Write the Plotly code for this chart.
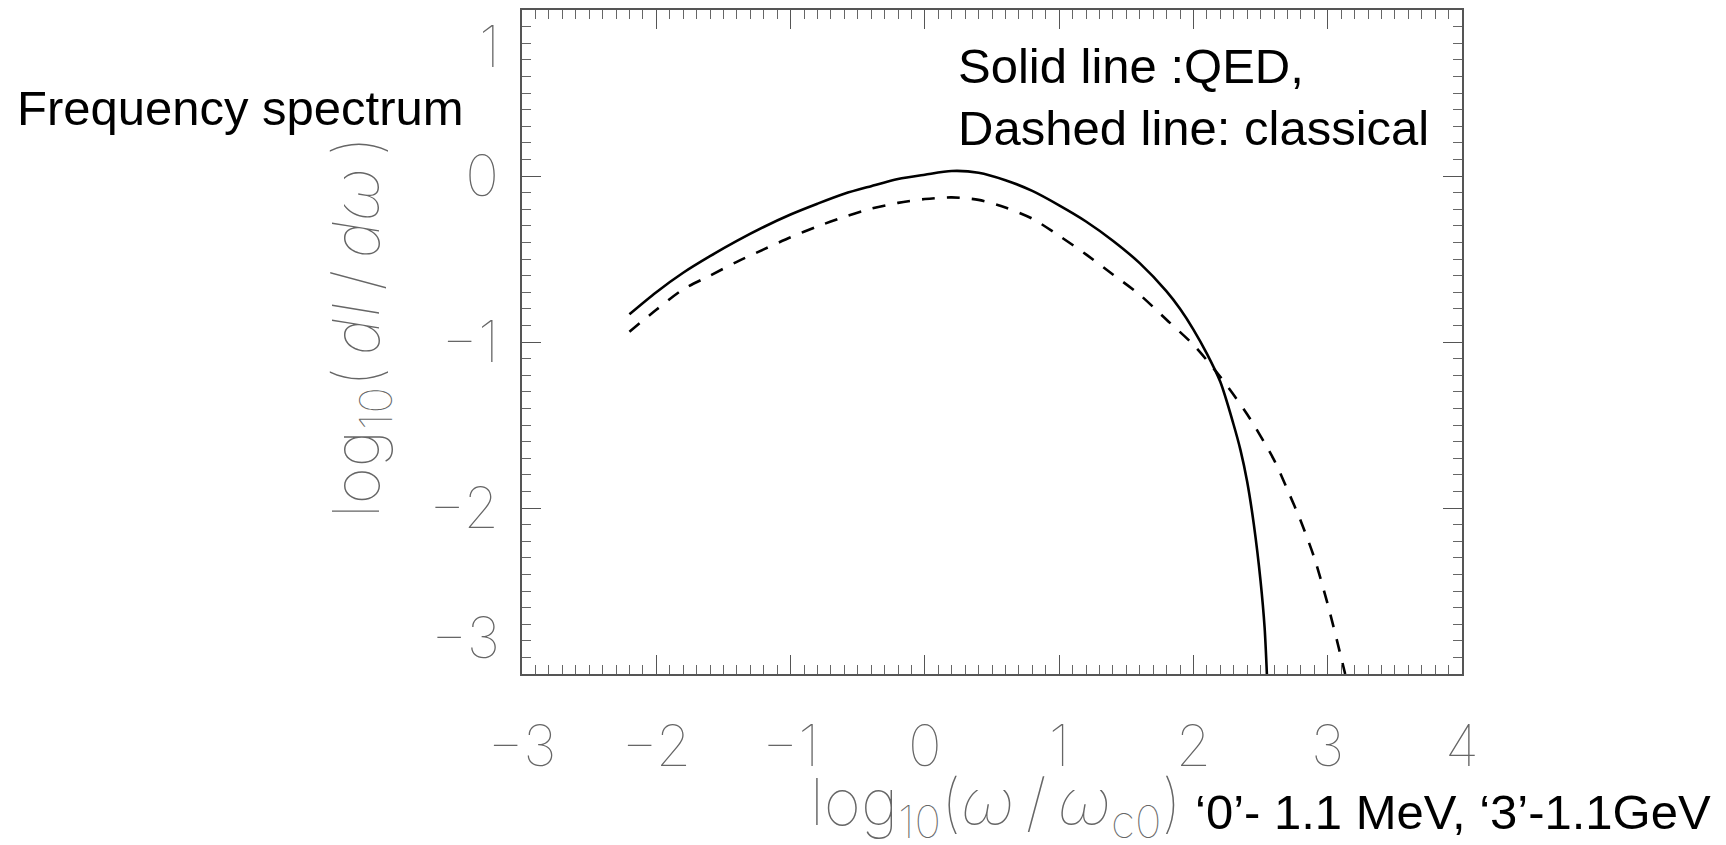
import plotly.graph_objects as go

# QED (solid) spectrum
qed_x = [-2.2, -2.0, -1.8, -1.6, -1.4, -1.2, -1.0, -0.8, -0.6, -0.4, -0.2, 0.0,
         0.2, 0.4, 0.6, 0.8, 1.0, 1.2, 1.4, 1.6, 1.8, 1.9, 2.0, 2.1, 2.2, 2.3,
         2.35, 2.4, 2.45, 2.5, 2.53, 2.547]
qed_y = [-0.833, -0.70, -0.583, -0.483, -0.391, -0.307, -0.232, -0.167, -0.107,
         -0.061, -0.018, 0.008, 0.030, 0.020, -0.025, -0.090, -0.177, -0.274,
         -0.39, -0.525, -0.695, -0.80, -0.925, -1.07, -1.24, -1.50, -1.65,
         -1.84, -2.10, -2.44, -2.72, -3.0]

# Classical (dashed) spectrum
cl_x = [-2.2, -2.0, -1.8, -1.6, -1.4, -1.2, -1.0, -0.8, -0.6, -0.4, -0.2, 0.0,
        0.2, 0.4, 0.6, 0.8, 1.0, 1.2, 1.4, 1.6, 1.8, 2.0, 2.2, 2.4, 2.6, 2.7,
        2.8, 2.9, 3.0, 3.1, 3.13]
cl_y = [-0.938, -0.806, -0.683, -0.600, -0.517, -0.442, -0.369, -0.304, -0.246,
        -0.197, -0.162, -0.139, -0.129, -0.144, -0.190, -0.257, -0.360, -0.472,
        -0.593, -0.715, -0.866, -1.017, -1.21, -1.435, -1.71, -1.89, -2.08,
        -2.30, -2.58, -2.90, -3.0]

x_ticks = [-3, -2, -1, 0, 1, 2, 3, 4]
y_ticks_inner = [-2, -1, 0]
y_end_labels = {1: "1", -3: "\u22123"}

TICK_FONT = dict(family="Inter", size=57, color="#666666", weight=100)
TITLE_FONT = dict(family="Inter", size=64, color="#666666", weight=100)
TEXT_FONT = dict(family="Liberation Sans, Arial", size=49, color="black")

fig = go.Figure()
fig.add_trace(go.Scatter(x=qed_x, y=qed_y, mode="lines",
                         line=dict(color="black", width=2.6, shape="spline",
                                   smoothing=0.8), name="QED"))
fig.add_trace(go.Scatter(x=cl_x, y=cl_y, mode="lines",
                         line=dict(color="black", width=2.6, dash="13px,12px",
                                   shape="spline", smoothing=0.8),
                         name="classical"))

axis_common = dict(
    showgrid=False, zeroline=False, showline=True, linecolor="#555555",
    linewidth=1.5, mirror="ticks", ticks="inside", ticklen=19, tickwidth=1.3,
    tickcolor="#555555", tickfont=TICK_FONT, automargin=False,
    minor=dict(ticks="inside", ticklen=9, tickwidth=1.1, tickcolor="#666666",
               dtick=0.1, showgrid=False),
)

fig.update_xaxes(range=[-3, 4], tickvals=x_ticks, ticklabelstandoff=22,
                 **axis_common)
fig.update_yaxes(range=[-3, 1], tickvals=y_ticks_inner,
                 ticklabelstandoff=10, **axis_common)

# page body has an 8px margin: figure origin is at (8, 8) of the window
OFF = 8
W, H = 1726 - OFF, 845 - OFF
L, R, T, B = 522 - OFF, 264, 10 - OFF, 171
pw, ph = W - L - R, H - T - B


def px_x(px):
    return (px - OFF - L) / pw


def px_y(py):
    return 1 - (py - OFF - T) / ph


annotations = []
for v, t in y_end_labels.items():
    annotations.append(dict(x=0, xref="paper", y=v, yref="y", text=t,
                            showarrow=False, xanchor="right",
                            yanchor="top" if v > 0 else "bottom",
                            xshift=-20, font=TICK_FONT))

pixel_texts = [
    (15, 108, "left", "Frequency spectrum", TEXT_FONT, 0),
    (956, 66, "left", "Solid line :QED,", TEXT_FONT, 0),
    (956, 128, "left", "Dashed line: classical", TEXT_FONT, 0),
    (1193, 812, "left", "\u20180\u2019- 1.1 MeV, \u20183\u2019-1.1GeV", TEXT_FONT, 0),
    (996, 806, "center",
     "log<sub>10</sub>(<i>\u03c9</i>\u2009/\u2009<i>\u03c9</i><sub>c0</sub>)",
     TITLE_FONT, 0),
    (360, 327, "center",
     "log<sub>10</sub>(\u2009<i>dI</i>\u2009/\u2009<i>d\u03c9</i>\u2009)", TITLE_FONT, -90),
]
for px, py, anchor, text, font, ang in pixel_texts:
    annotations.append(dict(x=px_x(px), y=px_y(py), xref="paper", yref="paper",
                            text=text, showarrow=False, xanchor=anchor,
                            yanchor="middle", font=font, textangle=ang))

fig.update_layout(
    width=W, height=H, showlegend=False,
    margin=dict(l=L, r=R, t=T, b=B, autoexpand=False),
    paper_bgcolor="white", plot_bgcolor="white",
    annotations=annotations,
)

fig.write_html("out.html")
